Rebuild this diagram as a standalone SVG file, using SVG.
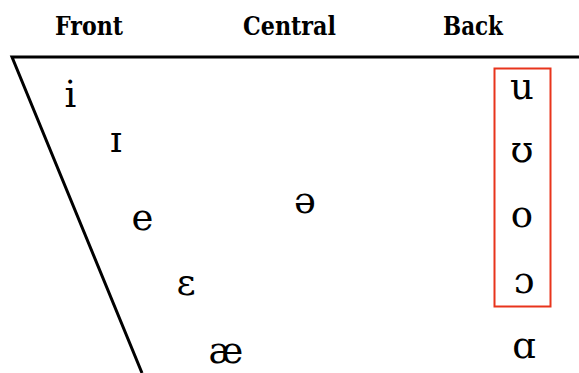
<svg xmlns="http://www.w3.org/2000/svg" width="579" height="373" viewBox="0 0 579 373">
<style>
.ln{stroke:#000;stroke-width:3;fill:none}
.h{font-family:"DejaVu Serif",serif;font-weight:bold;font-size:26px;fill:#000}
.v{font-family:"DejaVu Serif",serif;font-size:37px;fill:#000;text-anchor:middle}
</style>
<rect width="579" height="373" fill="#fff"/>
<g id="headers">
<text class="h" x="55" y="35" textLength="68" lengthAdjust="spacingAndGlyphs">Front</text>
<text class="h" x="243" y="35" textLength="93" lengthAdjust="spacingAndGlyphs">Central</text>
<text class="h" x="443" y="35" textLength="60" lengthAdjust="spacingAndGlyphs">Back</text>
</g>
<g id="connectors">
<path class="ln" d="M579 57 L12 57 L142 373"/>
</g>
<g id="box"><rect x="494.5" y="68.5" width="56" height="238" fill="none" stroke="#e8341c" stroke-width="2"/></g>
<g id="v-i"><text class="v" x="70.5" y="107">i</text></g>
<g id="v-ih"><text class="v" x="116" y="152">ɪ</text></g>
<g id="v-e"><text class="v" x="142.5" y="230">e</text></g>
<g id="v-schwa"><text class="v" x="305" y="213">ə</text></g>
<g id="v-eh"><text class="v" x="186" y="295">ɛ</text></g>
<g id="v-ae"><text class="v" x="226" y="363">æ</text></g>
<g id="v-u"><text class="v" x="522" y="99">u</text></g>
<g id="v-uh"><text class="v" x="522" y="162">ʊ</text></g>
<g id="v-o"><text class="v" x="522" y="227">o</text></g>
<g id="v-oh"><text class="v" x="524" y="293">ɔ</text></g>
<g id="v-a"><text class="v" x="524" y="358">ɑ</text></g>
</svg>
